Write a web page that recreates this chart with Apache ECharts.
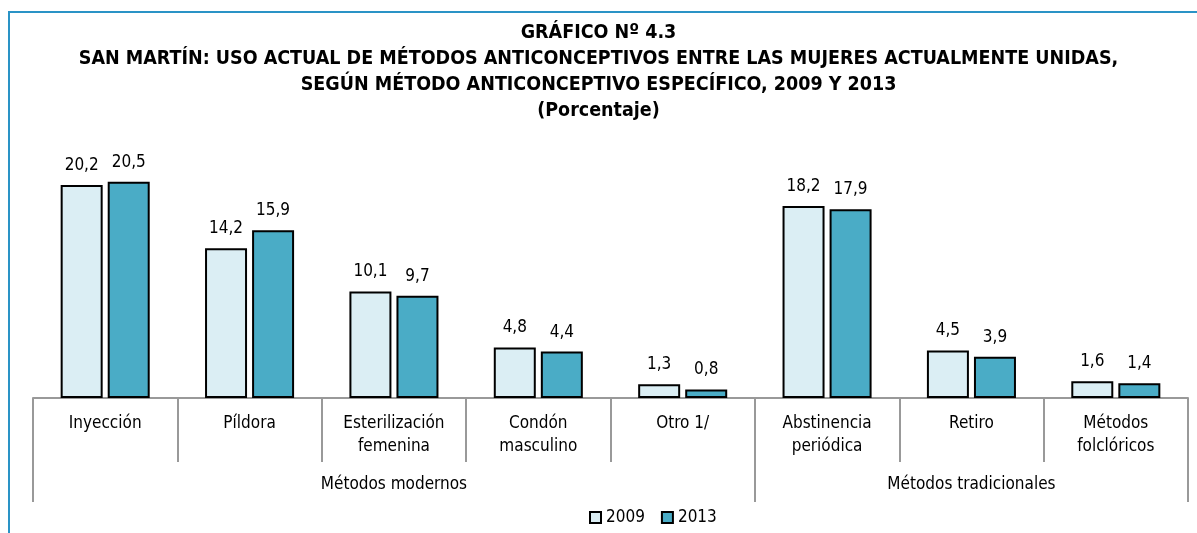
<!DOCTYPE html>
<html>
<head>
<meta charset="utf-8">
<script src="https://cdn.jsdelivr.net/npm/echarts@6/dist/echarts.min.js"></script>
<style>
  html, body { margin: 0; padding: 0; background: #fff; }
  #chart { width: 1197px; height: 533px; }
</style>
</head>
<body>
<div id="chart"></div>
<script>
// categorías (nivel 1) y grupos (nivel 2)
const metodos = ['Inyección', 'Píldora', 'Esterilización\nfemenina', 'Condón\nmasculino', 'Otro 1/',
  'Abstinencia\nperiódica', 'Retiro', 'Métodos\nfolclóricos']
const grupos = ['', '', 'Métodos modernos', '', '', '', 'Métodos tradicionales', '']
const cortesGrupo = [0, 5] // índices donde empieza cada grupo

const valores2009 = [20.2, 14.2, 10.1, 4.8, 1.3, 18.2, 4.5, 1.6]
const valores2013 = [20.5, 15.9, 9.7, 4.4, 0.8, 17.9, 3.9, 1.4]

const fuente = "'Liberation Sans Narrow', 'Arial Narrow', 'DejaVu Sans Condensed', sans-serif"

const chart = echarts.init(document.getElementById('chart'))

const etiqueta = {
  show: true,
  position: 'top',
  distance: 11,
  color: '#000',
  fontSize: 17,
  fontFamily: fuente,
  formatter: p => p.value.toFixed(1).replace('.', ',')
}

const option = {
  animation: false,
  textStyle: { fontFamily: fuente },
  title: {
    text: 'GRÁFICO Nº 4.3\nSAN MARTÍN: USO ACTUAL DE MÉTODOS ANTICONCEPTIVOS ENTRE LAS MUJERES ACTUALMENTE UNIDAS,\nSEGÚN MÉTODO ANTICONCEPTIVO ESPECÍFICO, 2009 Y 2013\n(Porcentaje)',
    left: 'center',
    top: 15,
    textStyle: {
      fontFamily: fuente,
      fontSize: 19.5,
      fontWeight: 'bold',
      color: '#000',
      lineHeight: 26
    }
  },
  graphic: [{
    type: 'rect',
    shape: { x: 9, y: 12, width: 1400, height: 800 },
    style: { fill: 'none', stroke: '#2a93c6', lineWidth: 2 },
    silent: true
  }],
  legend: {
    left: 584,
    top: 504,
    icon: 'rect',
    itemWidth: 11,
    itemHeight: 11,
    itemGap: 16,
    textStyle: { fontSize: 17, color: '#000', fontFamily: fuente },
    data: ['2009', '2013']
  },
  grid: { left: 33, right: 9, top: 166, bottom: 135 },
  xAxis: [
    {
      type: 'category',
      data: metodos,
      position: 'bottom',
      axisLine: { lineStyle: { color: '#999', width: 2 } },
      axisTick: { show: true, interval: 0, length: 64, lineStyle: { color: '#999', width: 2 } },
      axisLabel: {
        interval: 0,
        margin: 14,
        color: '#000',
        fontSize: 17,
        lineHeight: 23,
        fontFamily: fuente
      }
    },
    {
      type: 'category',
      data: grupos,
      position: 'bottom',
      axisLine: { show: false },
      axisTick: {
        show: true,
        interval: (i) => cortesGrupo.includes(i),
        length: 104,
        lineStyle: { color: '#999', width: 2 }
      },
      axisLabel: {
        interval: 0,
        margin: 78,
        color: '#000',
        fontSize: 17,
        fontFamily: fuente
      }
    }
  ],
  yAxis: {
    type: 'value',
    min: 0,
    max: 22,
    show: false,
    splitLine: { show: false }
  },
  series: [
    {
      name: '2009',
      type: 'bar',
      data: valores2009,
      barWidth: 42,
      barGap: '12%',
      itemStyle: { color: '#dbeef4', borderColor: '#000', borderWidth: 2 },
      label: etiqueta
    },
    {
      name: '2013',
      type: 'bar',
      data: valores2013,
      barWidth: 42,
      itemStyle: { color: '#4aacc6', borderColor: '#000', borderWidth: 2 },
      label: etiqueta
    }
  ]
}

chart.setOption(option)
</script>
</body>
</html>
